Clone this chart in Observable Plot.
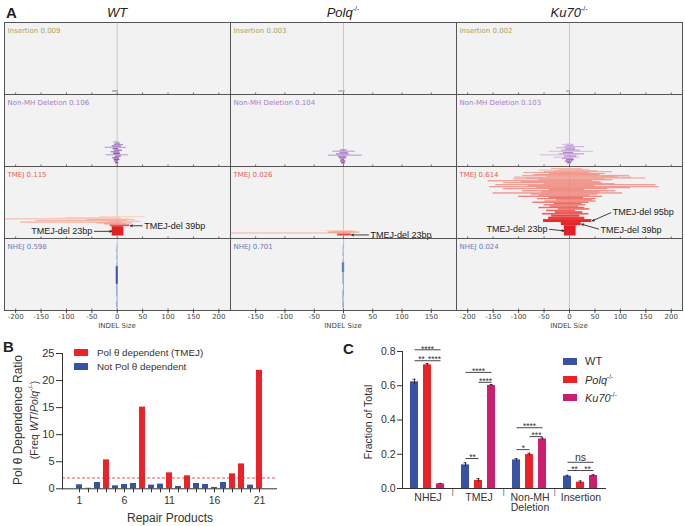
<!DOCTYPE html>
<html><head><meta charset="utf-8">
<script src="https://cdn.jsdelivr.net/npm/d3@7"></script>
<script src="https://cdn.jsdelivr.net/npm/@observablehq/plot@0.6"></script>
<style>
body{margin:0;background:#fff;}
#root{position:relative;width:685px;height:526px;overflow:hidden;font-family:"Liberation Sans",Arial,sans-serif;color:#222;}
#root svg{overflow:visible;}
.abs{position:absolute;white-space:nowrap;line-height:1;}
</style>
</head><body><div id="root"></div>
<script>
// ---------------- DATA ----------------
const genotypes = ["WT", "Polq", "Ku70"];
const categories = ["Insertion", "Non-MH Deletion", "TMEJ", "NHEJ"];
const wtFractions   = [0.009, 0.106, 0.115, 0.598];
const polqFractions = [0.003, 0.104, 0.026, 0.701];
const ku70Fractions = [0.002, 0.103, 0.614, 0.024];
const wtTicks   = [-200, -150, -100, -50, 0, 50, 100, 150, 200];
const polqTicks = [-150, -100, -50, 0, 50, 100, 150];
const ku70Ticks = [-200, -150, -100, -50, 0, 50, 100, 150, 200];

// repair products: [start, end, stacked frequency (per mille)]
const wtInsertion   = [[-9, 2, 1.2]];
const polqInsertion = [[-8, 3, 1.0]];
const ku70Insertion = [[-6, 2, 1.0]];

const wtNonMH = [[-3,3,1.8],[-5,2,1.6],[-6,5,1.8],[-9,4,1.5],[-4,8,1.6],[-22,22,1.2],[-7,6,1.8],[-12,5,1.4],
  [-5,10,1.5],[-8,3,1.6],[-24,18,1.2],[-10,8,1.5],[-6,12,1.4],[-4,6,1.4],[-7,4,1.2]];
const polqNonMH = [[-3,3,1.8],[-5,4,1.6],[-4,2,1.6],[-7,5,1.5],[-9,6,1.4],[-26,32,1.2],[-12,10,1.4],[-6,8,1.4],
  [-18,20,1.2],[-5,6,1.4]];
const ku70NonMH = [[-4,4,1.6],[-8,6,1.5],[-6,10,1.5],[-14,8,1.3],[-30,20,1.0],[-10,14,1.4],[-57,18,1.0],[-20,30,1.2],
  [-12,8,1.4],[-40,47,1.0],[-16,22,1.2],[-8,12,1.4],[-25,12,1.1],[-10,30,1.1],[-6,8,1.2],[-14,10,1.0],[-5,5,0.9]];

const wtTMEJ = [[-10,13,9.5],[-14,25,1.8],[-25,18,1.0],[-40,30,0.9],[-190,10,0.9],[-18,45,0.8],[-160,20,0.8],
  [-60,35,0.8],[-220,8,0.8],[-130,25,0.7],[-100,5,0.7],[-35,55,0.7]];
const polqTMEJ = [[-10,13,2.2],[-200,10,0.8],[-26,28,1.0],[-18,20,0.8],[-30,15,0.7]];
const ku70TMEJ = [[-10,13,10.5],[-16,23,3.2],[-51,44,3.0],[-41,30,2.4],[-35,20,2.2],[-53,38,1.6],[-28,26,1.8],
  [-45,12,1.5],[-22,40,1.5],[-60,30,1.4],[-38,18,1.4],[-50,32,1.3],[-30,25,1.3],[-72,38,1.3],[-48,52,1.2],
  [-25,45,1.2],[-63,52,1.2],[-40,28,1.2],[-100,65,1.2],[-60,40,1.1],[-75,55,1.1],[-150,104,1.1],[-55,60,1.1],
  [-92,91,1.1],[-40,30,1.1],[-130,75,1.0],[-65,120,1.0],[-157,176,1.0],[-80,50,1.0],[-145,170,1.0],[-50,90,1.0],
  [-130,65,1.0],[-95,60,1.0],[-160,45,1.0],[-60,85,1.0],[-110,70,0.9],[-85,150,0.9],[-108,122,0.9],[-45,95,0.9],
  [-92,118,0.9],[-70,60,0.9],[-40,70,0.9],[-90,40,0.9],[-50,85,0.9],[-30,55,0.9],[-60,30,0.8],[-20,40,0.8],[-35,25,0.8]];

const wtNHEJ = [[-1,1,6],[0,1,6],[-1,1,6],[-1,1,6],[-2,2,18],[-1,1,4],[0,1,3],[-1,1,4],[-1,0,3],[-2,1,3],[-1,1,3],[0,2,3]];
const polqNHEJ = [[-1,1,6],[-1,0,6],[-1,1,6],[0,1,6],[-1,1,6],[-1,1,6],[-2,2,10],[-1,1,3],[0,1,3],[-1,1,4],[-1,0,3],[-1,1,3],[0,2,3]];
const ku70NHEJ = [[-1,1,1.5]];

const annotations = [
  {geno: "WT",   bar: 0, side: "left",  text: "TMEJ-del 23bp", labelX: -49, labelY: null},
  {geno: "WT",   bar: 1, side: "right", text: "TMEJ-del 39bp", labelX: 53,  labelY: null},
  {geno: "Polq", bar: 0, side: "right", text: "TMEJ-del 23bp", labelX: 46,  labelY: null},
  {geno: "Ku70", bar: 2, side: "right", text: "TMEJ-del 95bp", labelX: 85,  labelY: 24.5},
  {geno: "Ku70", bar: 1, side: "right", text: "TMEJ-del 39bp", labelX: 61,  labelY: 6.5},
  {geno: "Ku70", bar: 0, side: "left",  text: "TMEJ-del 23bp", labelX: -43, labelY: 7}
];

// Panel B
const bProducts = [1,2,3,4,5,6,7,8,9,10,11,12,13,14,15,16,17,18,19,20,21];
const bRatios = [0.74,0.1,1.17,5.34,0.55,0.8,0.98,15.1,0.68,0.86,2.95,0.43,2.4,0.98,0.8,0.25,1.17,2.76,4.6,0.68,21.9];
const bThreshold = 2;
const bTicks = [0,5,10,15,20,25];

// Panel C
const cCategories = ["NHEJ", "TMEJ", "Non-MH Deletion", "Insertion"];
const cWT       = [0.623, 0.138, 0.167, 0.072];
const cWTErr    = [0.015, 0.012, 0.007, 0.005];
const cPolq     = [0.722, 0.047, 0.198, 0.037];
const cPolqErr  = [0.007, 0.010, 0.008, 0.007];
const cKu70     = [0.027, 0.602, 0.289, 0.076];
const cKu70Err  = [0.003, 0.005, 0.006, 0.004];
const cTicks = [0, 0.2, 0.4, 0.6, 0.8];
const cBrackets = [
  ["NHEJ", "WT", "Ku70", 0.81, "****"], ["NHEJ", "WT", "Polq", 0.746, "**"], ["NHEJ", "Polq", "Ku70", 0.746, "****"],
  ["TMEJ", "WT", "Ku70", 0.678, "****"], ["TMEJ", "Polq", "Ku70", 0.62, "****"], ["TMEJ", "WT", "Polq", 0.175, "**"],
  ["Non-MH Deletion", "WT", "Ku70", 0.355, "****"], ["Non-MH Deletion", "Polq", "Ku70", 0.303, "***"], ["Non-MH Deletion", "WT", "Polq", 0.227, "*"],
  ["Insertion", "WT", "Ku70", 0.153, "ns"], ["Insertion", "WT", "Polq", 0.105, "**"], ["Insertion", "Polq", "Ku70", 0.105, "**"]
];

// ---------------- STYLE ----------------
const RED = "#ec2227", BLUE = "#3953a4", MAGENTA = "#cb1e6e";
const root = document.getElementById("root");
const rowLabelColor = {"Insertion": "#a8a462", "Non-MH Deletion": "#a77cc4", "TMEJ": "#e3605a", "NHEJ": "#6a78c0"};
const ramp = {
  "Insertion":       {lo: "#9a9a9a", hi: "#7a7a7a", tLo: 0,   tHi: 2,   pow: 1},
  "Non-MH Deletion": {lo: "#dcc6ea", hi: "#8d55b0", tLo: 0.9, tHi: 1.8, pow: 1},
  "TMEJ":            {lo: "#f8c4ad", hi: "#e41e25", tLo: 0.75, tHi: 3.5, pow: 0.4},
  "NHEJ":            {lo: "#c2e0f3", hi: "#3d55a8", tLo: 2,   tHi: 18,  pow: 0.5}
};
function barColor(cat, t) {
  const r = ramp[cat];
  const k = Math.pow(Math.max(0, Math.min(1, (t - r.tLo) / (r.tHi - r.tLo))), r.pow);
  return d3.interpolateRgb(r.lo, r.hi)(k);
}
function place(html, x, y, opts = {}) {
  const d = document.createElement("div");
  d.className = "abs";
  d.innerHTML = html;
  d.style.left = x + "px"; d.style.top = y + "px";
  d.style.fontSize = (opts.size || 11) + "px";
  if (opts.weight) d.style.fontWeight = opts.weight;
  if (opts.family) d.style.fontFamily = opts.family;
  if (opts.color) d.style.color = opts.color;
  const ax = opts.anchor === "start" ? "0" : "-50%";
  d.style.transform = `translate(${ax},-50%)` + (opts.rotate ? ` rotate(${opts.rotate}deg)` : "");
  root.appendChild(d);
  return d;
}
function mount(node, x, y) {
  node.style.position = "absolute"; node.style.left = x + "px"; node.style.top = y + "px";
  root.appendChild(node);
}
function swatch(color, x, y) {
  const sw = document.createElement("div");
  sw.style.cssText = `position:absolute;left:${x}px;top:${y - 3.5}px;width:14px;height:7px;background:${color}`;
  root.appendChild(sw);
}

// ---------------- PANEL A ----------------
const barSets = {
  WT:   {"Insertion": wtInsertion, "Non-MH Deletion": wtNonMH, "TMEJ": wtTMEJ, "NHEJ": wtNHEJ},
  Polq: {"Insertion": polqInsertion, "Non-MH Deletion": polqNonMH, "TMEJ": polqTMEJ, "NHEJ": polqNHEJ},
  Ku70: {"Insertion": ku70Insertion, "Non-MH Deletion": ku70NonMH, "TMEJ": ku70TMEJ, "NHEJ": ku70NHEJ}
};
const fractions = {WT: wtFractions, Polq: polqFractions, Ku70: ku70Fractions};
const ticksBy = {WT: wtTicks, Polq: polqTicks, Ku70: ku70Ticks};
const domainBy = {WT: [-222, 223], Polq: [-193, 193], Ku70: [-222, 222]};
const colLeft = [3, 229, 455];

genotypes.forEach((g, gi) => {
  const bars = [];
  categories.forEach(cat => {
    let acc = 0;
    barSets[g][cat].forEach(([s, e, t], i) => {
      bars.push({cat, i, x1: s, x2: e, y1: acc, y2: acc + t, t});
      acc += t;
    });
  });
  const labels = categories.map((cat, ci) => ({cat, label: `${cat} ${fractions[g][ci].toFixed(3)}`, color: rowLabelColor[cat]}));
  const anns = annotations.filter(a => a.geno === g).map(a => {
    const b = bars.find(d => d.cat === "TMEJ" && d.i === a.bar);
    const ty = (b.y1 + b.y2) / 2;
    return {...a, cat: "TMEJ", tx: a.side === "left" ? b.x1 : b.x2, ty, ly: a.labelY == null ? ty : a.labelY};
  });
  const annFont = {fontFamily: "Liberation Sans, Arial, sans-serif", fontSize: 9, fill: "#222"};
  const plot = Plot.plot({
    width: 228, height: 310,
    marginLeft: 1, marginRight: 1, marginTop: 1, marginBottom: 18,
    x: {domain: domainBy[g]},
    y: {domain: [-2.5, 70.5], axis: null},
    fy: {domain: categories, padding: 0, axis: null},
    color: {type: "identity"},
    style: {fontFamily: "DejaVu Sans, sans-serif", fontSize: "7px", background: "transparent", color: "#444"},
    marks: [
      Plot.frame({fill: "#f2f2f2"}),
      Plot.ruleX([0], {stroke: "#bdbdbd", strokeWidth: 0.8}),
      Plot.rect(bars, {fy: "cat", x1: "x1", x2: "x2", y1: "y1", y2: "y2", fill: d => barColor(d.cat, d.t), clip: true}),
      Plot.text(labels, {fy: "cat", text: "label", fill: "color", frameAnchor: "top-left", textAnchor: "start", dx: 3, dy: 6, fontSize: 7}),
      Plot.arrow(anns, {fy: "cat", x1: "labelX", y1: "ly", x2: "tx", y2: "ty", stroke: "#111", strokeWidth: 0.8, headLength: 4, headAngle: 50, insetStart: 2, insetEnd: 0.5}),
      Plot.text(anns.filter(a => a.side === "left"), {fy: "cat", x: "labelX", y: "ly", text: "text", textAnchor: "end", ...annFont}),
      Plot.text(anns.filter(a => a.side === "right"), {fy: "cat", x: "labelX", y: "ly", text: "text", textAnchor: "start", ...annFont}),
      Plot.tickX(ticksBy[g], {x: d => d, insetTop: 70.5, stroke: "#444", strokeWidth: 0.8}),
      Plot.frame({stroke: "#555", strokeWidth: 1}),
      Plot.axisX({ticks: ticksBy[g], tickFormat: d => String(d), tickSize: 3, tickPadding: 1, label: null, fontSize: 7})
    ]
  });
  mount(plot, colLeft[gi], 19);
});
place("A", 6, 12, {size: 15, weight: "bold", anchor: "start"});
place("<i>WT</i>", 117, 12, {size: 13});
place("<i>Polq</i><sup style='font-size:7px'>-/-</sup>", 343, 12, {size: 13});
place("<i>Ku70</i><sup style='font-size:7px'>-/-</sup>", 569, 12, {size: 13});
[117, 343, 569].forEach(x => place("INDEL Size", x, 326, {size: 7, family: "DejaVu Sans, sans-serif", color: "#444"}));

// ---------------- PANEL B ----------------
const bData = bProducts.map((p, i) => ({product: p, ratio: bRatios[i]}));
const plotB = Plot.plot({
  width: 300, height: 190, marginLeft: 62, marginRight: 23, marginTop: 18, marginBottom: 36.7,
  x: {type: "band", domain: bProducts, paddingInner: 0.3, paddingOuter: 0.8},
  y: {domain: [0, 25]},
  style: {fontFamily: "Liberation Sans, Arial, sans-serif", fontSize: "10px", background: "transparent", color: "#333"},
  marks: [
    Plot.barY(bData, {x: "product", y: "ratio", fill: d => d.ratio > bThreshold ? RED : BLUE}),
    Plot.ruleY([bThreshold], {stroke: RED, strokeDasharray: "3,2", strokeWidth: 0.8}),
    Plot.ruleY([0], {stroke: "#333"}),
    Plot.axisX({tickSize: 4, tickPadding: 4, tickFormat: d => ((d - 1) % 5 === 0 ? String(d) : ""), label: null, fontSize: 10.5}),
    Plot.axisY({ticks: bTicks, tickSize: 6, tickPadding: 2, label: null, fontSize: 11}),
    Plot.frame({anchor: "left", stroke: "#333"})
  ]
});
mount(plotB, 0, 335);
place("B", 3, 346, {size: 15, weight: "bold", anchor: "start"});
place("Pol θ Dependence Ratio", 18, 420, {size: 12, rotate: -90, color: "#333"});
place("(Freq <i>WT</i>/<i>Polq</i><sup style='font-size:7px'>-/-</sup>)", 33, 420, {size: 10.5, rotate: -90, color: "#333"});
place("Repair Products", 170, 518, {size: 12, color: "#333"});
[[RED, "Pol θ dependent (TMEJ)", 352.5], [BLUE, "Not Pol θ dependent", 366.5]].forEach(([c, t, y]) => {
  swatch(c, 74, y);
  place(t, 97, y, {size: 9.8, anchor: "start", color: "#333"});
});

// ---------------- PANEL C ----------------
const cSeries = {WT: [cWT, cWTErr], Polq: [cPolq, cPolqErr], Ku70: [cKu70, cKu70Err]};
const cData = cCategories.flatMap((cat, i) => genotypes.map(g => ({cat, geno: g, value: cSeries[g][0][i], err: cSeries[g][1][i]})));
const brackets = cBrackets.map(([cat, a, b, level, label]) => {
  const ia = genotypes.indexOf(a), ib = genotypes.indexOf(b);
  return {cat, a, b, level, label, wide: ib - ia === 2, mid: genotypes[Math.floor((ia + ib) / 2)]};
});
const starFont = {fill: "#333", fontSize: 8.5, dy: -1};
const plotC = Plot.plot({
  width: 345, height: 190, marginLeft: 60, marginRight: 78, marginTop: 16, marginBottom: 37,
  fx: {domain: cCategories, padding: 0, label: null},
  x: {domain: genotypes, paddingInner: 0.36, paddingOuter: 0.57, axis: null},
  y: {domain: [0, 0.8]},
  color: {domain: genotypes, range: [BLUE, RED, MAGENTA]},
  style: {fontFamily: "Liberation Sans, Arial, sans-serif", fontSize: "10px", background: "transparent", color: "#333"},
  marks: [
    Plot.barY(cData, {fx: "cat", x: "geno", y: "value", fill: "geno"}),
    Plot.ruleX(cData, {fx: "cat", x: "geno", y1: d => d.value - d.err, y2: d => d.value + d.err, stroke: "#222", strokeWidth: 0.9}),
    Plot.tickY(cData, {fx: "cat", x: "geno", y: d => d.value + d.err, insetLeft: 2.5, insetRight: 2.5, stroke: "#222", strokeWidth: 0.9}),
    Plot.ruleY([0], {stroke: "#333"}),
    Plot.text(cCategories.slice(0, 3), {fx: d => d, text: () => "|", frameAnchor: "bottom-right", dy: 5, fontSize: 7, fill: "#333"}),
    Plot.link(brackets, {fx: "cat", x1: "a", x2: "b", y1: "level", y2: "level", stroke: "#333", strokeWidth: 0.9}),
    Plot.text(brackets.filter(d => d.wide && d.label !== "ns"), {fx: "cat", x: "mid", y: "level", text: "label", ...starFont}),
    Plot.text(brackets.filter(d => !d.wide), {fx: "cat", x: "a", y: "level", text: "label", dx: 7, ...starFont}),
    Plot.text(brackets.filter(d => d.label === "ns"), {fx: "cat", x: "mid", y: "level", text: "label", fill: "#333", fontSize: 10.5, dy: -5}),
    Plot.axisFx({anchor: "bottom", tickSize: 0, tickPadding: 5, label: null, fontSize: 10.5,
      tickFormat: d => d === "Non-MH Deletion" ? "Non-MH\nDeletion" : d}),
    Plot.axisY({ticks: cTicks, tickFormat: d3.format(".1f"), tickSize: 5, tickPadding: 2, label: null, fontSize: 10.5}),
    Plot.frame({anchor: "left", facetAnchor: "left", stroke: "#333"})
  ]
});
mount(plotC, 340, 335);
place("C", 343, 348, {size: 15, weight: "bold", anchor: "start"});
place("Fraction of Total", 368, 422, {size: 10.5, rotate: -90, color: "#333"});
[[BLUE, "WT", 361], [RED, "<i>Polq</i><sup style='font-size:6.5px'>-/-</sup>", 379.5], [MAGENTA, "<i>Ku70</i><sup style='font-size:6.5px'>-/-</sup>", 397.5]].forEach(([c, t, y]) => {
  swatch(c, 563, y);
  place(t, 585, y, {size: 11, anchor: "start", color: "#333"});
});
</script>
</body></html>
